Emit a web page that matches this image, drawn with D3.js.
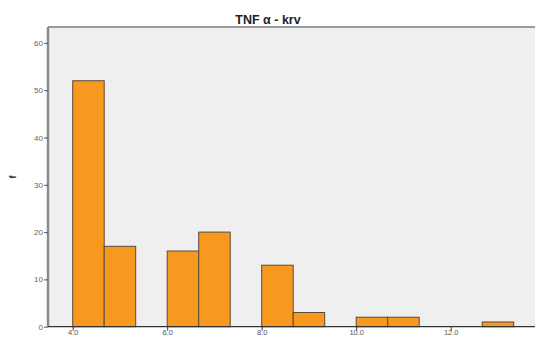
<!DOCTYPE html>
<html><head><meta charset="utf-8">
<script src="https://cdn.jsdelivr.net/npm/d3@7"></script>
<style>body{margin:0;background:#fff}svg{display:block}</style>
</head><body>
<svg id="c" width="535" height="338"></svg>
<script>
const binStarts = [4.0, 4.6667, 5.3333, 6.0, 6.6667, 7.3333, 8.0, 8.6667, 9.3333, 10.0, 10.6667, 11.3333, 12.0, 12.6667];
const binWidth = 2/3;
const counts = [52, 17, 0, 16, 20, 0, 13, 3, 0, 2, 2, 0, 0, 1];
const xTicks = [4.0, 6.0, 8.0, 10.0, 12.0];
const yTicks = [0, 10, 20, 30, 40, 50, 60];
const title = "TNF α - krv";
const yLabel = "f";

const svg = d3.select("#c");
const L = 48, T = 27, R = 535, B = 326.7;
const x = d3.scaleLinear().domain([4, 6]).range([72.7, 167.2]);
const y = d3.scaleLinear().domain([0, 60]).range([B, B - 6*47.3]);

svg.append("rect").attr("x", L).attr("y", T).attr("width", R - L).attr("height", B - T).attr("fill", "#efefef");
svg.append("line").attr("x1", L).attr("x2", R).attr("y1", T).attr("y2", T).attr("stroke", "#9a9a9a").attr("stroke-width", 2);

svg.append("text").attr("x", 268).attr("y", 23.5).attr("text-anchor", "middle")
  .attr("font-family", "Liberation Sans, Arial, sans-serif").attr("font-weight", "bold").attr("font-size", 12.5)
  .attr("fill", "#222").text(title);

const bars = binStarts.map((s, i) => ({s, c: counts[i]})).filter(d => d.c > 0);
svg.selectAll("rect.bar").data(bars).join("rect").attr("class", "bar")
  .attr("x", d => x(d.s)).attr("width", d => x(d.s + binWidth) - x(d.s))
  .attr("y", d => y(d.c)).attr("height", d => y(0) - y(d.c))
  .attr("fill", "#f7991f").attr("stroke", "#5a4a3a").attr("stroke-width", 1);

// y axis
const ya = svg.append("g").attr("transform", `translate(${L},0)`)
  .call(d3.axisLeft(y).tickValues(yTicks).tickFormat(d3.format("d")).tickSize(4));
ya.select(".domain").attr("stroke", "#8a8a8a").attr("stroke-width", 2.5).attr("d", `M0,${T}V${B}`);
ya.selectAll(".tick line").attr("stroke", "#555");
ya.selectAll(".tick text").attr("font-family", "Liberation Sans, Arial, sans-serif").attr("font-size", 8).attr("fill", "#666").attr("x", -5);

// x axis
const xa = svg.append("g").attr("transform", `translate(0,${B})`)
  .call(d3.axisBottom(x).tickValues(xTicks).tickFormat(d3.format(".1f")).tickSize(4));
xa.select(".domain").attr("stroke", "#333").attr("stroke-width", 1.2).attr("d", `M${L},0H${R}`);
xa.selectAll(".tick line").attr("stroke", "#333");
xa.selectAll(".tick text").attr("font-family", "Liberation Sans, Arial, sans-serif").attr("font-size", 7.5).attr("fill", "#555").attr("y", 3);

svg.append("text").attr("transform", "translate(16,177) rotate(-90)").attr("text-anchor", "middle")
  .attr("font-family", "Liberation Sans, Arial, sans-serif").attr("font-weight", "bold").attr("font-size", 9).attr("fill", "#222").text(yLabel);
</script>
</body></html>
